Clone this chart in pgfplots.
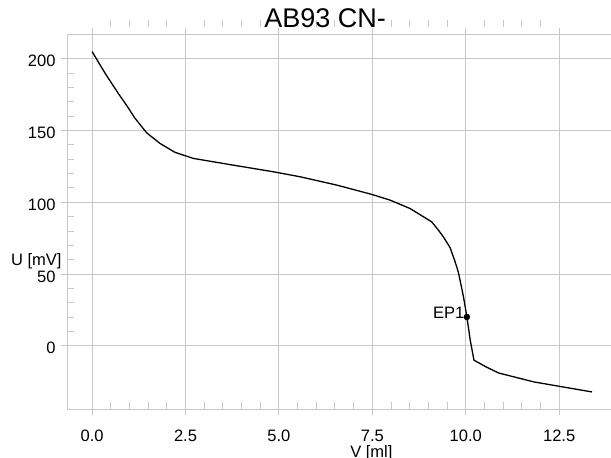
\documentclass[border=0pt]{standalone}
\usepackage{pgfplots}
\pgfplotsset{compat=1.18}
\usepackage{fontspec}
\setmainfont{Liberation Sans}

\definecolor{gridgray}{RGB}{200,200,200}

\begin{document}
\begin{tikzpicture}
% page box: 611 x 457 (1pt = 1px of the reference)
\useasboundingbox (-67pt,-48pt) rectangle (543.5pt,409pt);
\begin{axis}[
    scale only axis,
    width=544pt, height=375pt,
    xmin=-0.67, xmax=13.9,
    ymin=-44.1, ymax=217.2,
    xtick={0,2.5,5,7.5,10,12.5},
    xticklabels={0.0,2.5,5.0,7.5,10.0,12.5},
    ytick={0,50,100,150,200},
    yticklabels={0,50,100,150,200},
    minor x tick num=4,
    minor y tick num=4,
    grid=major,
    major grid style={gridgray, line width=1pt},
    axis line style={gridgray, line width=1pt},
    tick align=outside,
    major tick length=6pt,
    minor tick length=7pt,
    every tick/.style={gridgray, line width=1pt},
    minor x tick style={yshift=7pt},
    minor y tick style={xshift=7pt},
    tick label style={font=\fontsize{16.5}{18}\selectfont},
    xticklabel style={anchor=base, yshift=-26pt},
    yticklabel style={anchor=base east, xshift=-2pt, yshift=-8pt},
    title={AB93 CN-},
    title style={at={(axis description cs:0.474,1)}, anchor=base,
                 yshift=1pt, font=\fontsize{27}{30}\selectfont},
    xlabel={V [ml]},
    xlabel style={at={(axis description cs:0.559,0)}, anchor=base,
                  yshift=-48pt, font=\fontsize{16.5}{18}\selectfont},
    ylabel={U [mV]},
    ylabel style={at={(axis description cs:0,0.384)}, anchor=base east,
                  rotate=-90, xshift=-2pt, font=\fontsize{16.5}{18}\selectfont},
    clip=false,
]
\addplot[black, line width=1.3pt, mark=none, line join=round] coordinates {
    (0.00,205.0) (0.35,189.8) (0.70,175.9) (0.93,167.3) (1.15,158.5)
    (1.46,148.4) (1.82,141.0) (2.22,134.8) (2.71,130.6)
    (3.78,125.9) (4.85,121.3) (5.57,117.8) (6.55,112.0) (7.49,105.5)
    (7.98,101.5) (8.51,95.7) (9.09,86.4) (9.27,80.6) (9.40,76.0)
    (9.58,68.5) (9.69,60.5) (9.76,55.0) (9.81,50.4) (9.94,34.1)
    (10.03,20.2) (10.12,4.0) (10.22,-9.9) (10.57,-14.9) (10.88,-18.8)
    (11.82,-25.0) (12.71,-29.0) (13.38,-32.0)
};
\addplot[only marks, mark=*, mark size=3pt, black] coordinates {(10.03,20.2)}
    node[anchor=base east, xshift=1pt, yshift=-2pt,
         font=\fontsize{16.5}{18}\selectfont] {EP1};
\end{axis}
\end{tikzpicture}
\end{document}
